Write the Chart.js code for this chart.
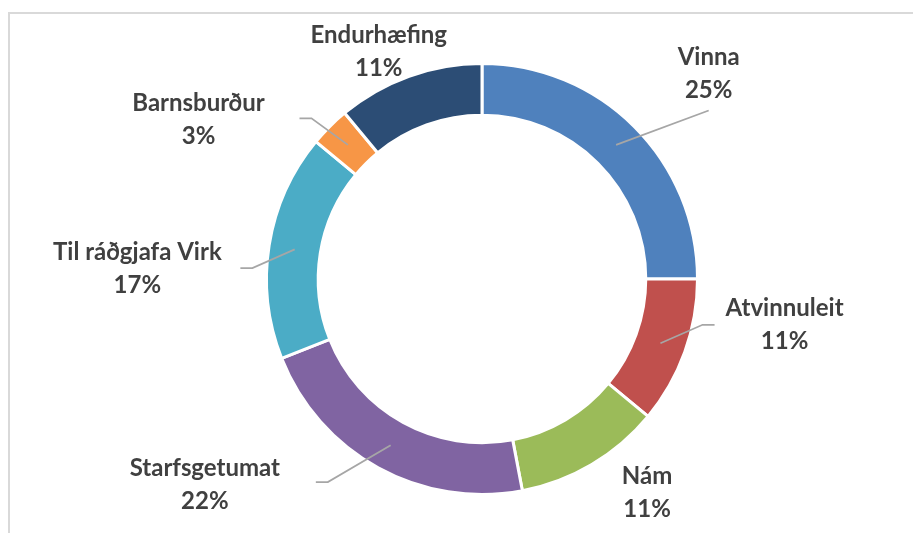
<!DOCTYPE html>
<html>
<head>
<meta charset="utf-8">
<script src="https://cdn.jsdelivr.net/npm/chart.js@4.4.0/dist/chart.umd.min.js"></script>
<style>
  html, body { margin: 0; padding: 0; background: #fff; overflow: hidden; }
  .frame {
    position: absolute; left: 8px; top: 12px; width: 920px; height: 540px;
    border-top: 2px solid #d9d9d9; border-left: 2px solid #d9d9d9;
  }
  #chart { position: absolute; left: 0; top: 0; }
</style>
</head>
<body>
<div class="frame"></div>
<canvas id="chart" width="913" height="533"></canvas>
<script>
// values (percent)
const categories = ['Vinna', 'Atvinnuleit', 'Nám', 'Starfsgetumat', 'Til ráðgjafa Virk', 'Barnsburður', 'Endurhæfing'];
const values = [25, 11, 11, 22, 17, 3, 11];
const colors = ['#4f81bd', '#c0504d', '#9bbb59', '#8064a2', '#4bacc6', '#f79646', '#2c4d75'];

// label placement: distance in outer radii, angle shift from slice middle (deg),
// leader line end relative to the label centre [dx, dy, elbow]
const labelPlace = [
  { dist: 1.42, shift: 2.8, lead: [0, 37, 0] },
  { dist: 1.42, shift: -11.2, lead: [-70, 0, -12] },
  { dist: 1.25, shift: -7.2, lead: null },
  { dist: 1.60, shift: 24.7, lead: [111, -2, 12] },
  { dist: 1.60, shift: -7.2, lead: [103, 0, 12] },
  { dist: 1.51, shift: -15.6, lead: [101, -1, 12] },
  { dist: 1.16, shift: -4.6, lead: null },
];

const outLabels = {
  id: 'outLabels',
  afterDatasetsDraw(chart) {
    const ctx = chart.ctx;
    const total = values.reduce((a, b) => a + b, 0);
    chart.getDatasetMeta(0).data.forEach((arc, i) => {
      const p = arc.getProps(['x', 'y', 'startAngle', 'endAngle', 'innerRadius', 'outerRadius'], true);
      const mid = (p.startAngle + p.endAngle) / 2;
      const lp = labelPlace[i];
      const a = mid + lp.shift * Math.PI / 180;
      const lx = p.x + Math.cos(a) * p.outerRadius * lp.dist;
      const ly = p.y + Math.sin(a) * p.outerRadius * lp.dist;

      if (lp.lead) {
        const rMid = (p.innerRadius + p.outerRadius) / 2;
        const sx = p.x + Math.cos(mid) * rMid;
        const sy = p.y + Math.sin(mid) * rMid;
        const ex = lx + lp.lead[0], ey = ly + lp.lead[1];
        ctx.save();
        ctx.strokeStyle = '#a6a6a6';
        ctx.lineWidth = 1.75;
        ctx.beginPath();
        ctx.moveTo(sx, sy);
        ctx.lineTo(ex + lp.lead[2], ey);
        ctx.lineTo(ex, ey);
        ctx.stroke();
        ctx.restore();
      }

      ctx.save();
      ctx.fillStyle = '#404040';
      ctx.font = 'bold 24px Lato';
      ctx.textAlign = 'center';
      ctx.textBaseline = 'middle';
      ctx.fillText(categories[i], lx, ly - 16);
      ctx.fillText(Math.round(values[i] / total * 100) + '%', lx, ly + 17);
      ctx.restore();
    });
  }
};

new Chart(document.getElementById('chart'), {
  type: 'doughnut',
  data: {
    labels: categories,
    datasets: [{
      data: values,
      backgroundColor: colors,
      borderColor: '#ffffff',
      borderWidth: 3,
    }],
  },
  options: {
    responsive: false,
    animation: false,
    cutout: '76%',
    layout: { padding: { top: 62, bottom: 37, left: 265, right: 214 } },
    plugins: {
      legend: { display: false },
      tooltip: { enabled: false },
    },
  },
  plugins: [outLabels],
});
</script>
</body>
</html>
